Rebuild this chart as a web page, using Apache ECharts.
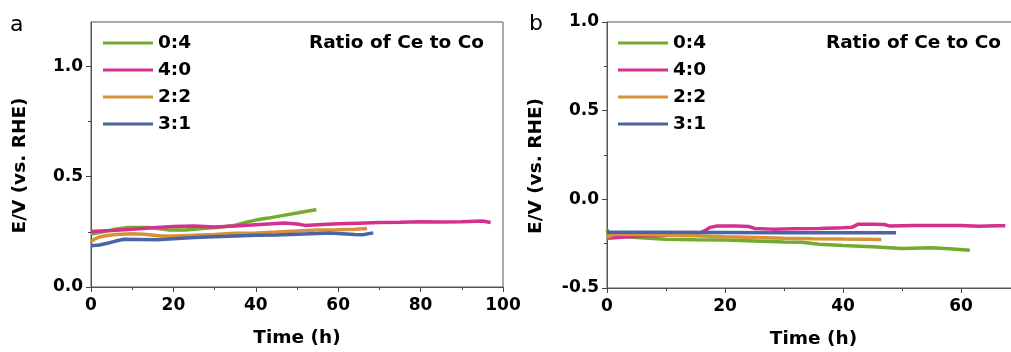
<!DOCTYPE html>
<html><head><meta charset="utf-8">
<script src="https://cdn.jsdelivr.net/npm/echarts@6/dist/echarts.min.js"></script>
<style>html,body{margin:0;padding:0;background:#fff;}#c{width:1011px;height:352px;}</style>
</head><body><div id="c"></div>
<script>
// ---- data ----
const names = ['0:4', '4:0', '2:2', '3:1'];
const colors = ['#72ab2e', '#d4308e', '#d89236', '#4a64a6'];

// panel a
const tA_04 = [0, 3, 6, 9, 14, 19, 23, 27, 31, 35, 38, 40, 43, 46, 50, 53, 54.7];
const vA_04 = [0.24, 0.25, 0.262, 0.27, 0.27, 0.258, 0.258, 0.265, 0.27, 0.28, 0.295, 0.303, 0.312, 0.322, 0.335, 0.345, 0.35];
const tA_40 = [0, 5, 10, 15, 20, 25, 30, 35, 40, 45, 47, 50, 52, 55, 60, 65, 70, 75, 80, 85, 90, 95, 97];
const vA_40 = [0.251, 0.256, 0.262, 0.268, 0.274, 0.276, 0.272, 0.276, 0.282, 0.288, 0.290, 0.285, 0.279, 0.282, 0.286, 0.289, 0.292, 0.293, 0.295, 0.294, 0.295, 0.299, 0.292];
const tA_22 = [0, 1, 2, 4, 6, 10, 13, 17, 20, 25, 30, 35, 40, 45, 50, 55, 60, 64, 67];
const vA_22 = [0.206, 0.218, 0.226, 0.233, 0.238, 0.241, 0.239, 0.231, 0.231, 0.234, 0.238, 0.243, 0.245, 0.249, 0.254, 0.258, 0.259, 0.261, 0.265];
const tA_31 = [0, 2, 4, 6, 8, 12, 16, 20, 25, 30, 35, 40, 45, 50, 55, 58, 61, 64, 66, 68.5];
const vA_31 = [0.187, 0.19, 0.198, 0.208, 0.216, 0.215, 0.214, 0.219, 0.224, 0.228, 0.231, 0.234, 0.236, 0.239, 0.242, 0.244, 0.241, 0.238, 0.237, 0.245];

// panel b
const tB_04 = [0, 0.3, 1, 5, 10, 15, 20, 25, 30, 33, 36, 40, 45, 50, 55, 58, 61.5];
const vB_04 = [-0.17, -0.195, -0.205, -0.215, -0.225, -0.228, -0.23, -0.235, -0.24, -0.242, -0.253, -0.261, -0.268, -0.277, -0.273, -0.278, -0.287];
const tB_40 = [0, 3, 6, 10, 13, 15.5, 16.5, 17.5, 18.5, 22, 24, 25, 28, 32, 36, 40, 41.5, 42.5, 45, 47, 48, 52, 56, 60, 63, 66, 67.5];
const vB_40 = [-0.219, -0.212, -0.207, -0.203, -0.198, -0.193, -0.178, -0.158, -0.151, -0.151, -0.153, -0.164, -0.168, -0.166, -0.165, -0.16, -0.158, -0.141, -0.14, -0.142, -0.151, -0.147, -0.148, -0.147, -0.152, -0.149, -0.149];
const tB_22 = [0, 0.5, 1.5, 5, 10, 15, 20, 25, 30, 35, 40, 46.5];
const vB_22 = [-0.215, -0.205, -0.196, -0.198, -0.201, -0.206, -0.211, -0.215, -0.219, -0.222, -0.224, -0.226];
const tB_31 = [0, 10, 20, 30, 40, 49];
const vB_31 = [-0.185, -0.186, -0.187, -0.188, -0.188, -0.189];

// axes ticks
const xTicksA = [0, 20, 40, 60, 80, 100];
const xMinorA = [10, 30, 50, 70, 90];
const yTicksA = [0, 0.5, 1.0];
const yMinorA = [0.25, 0.75];
const xTicksB = [0, 20, 40, 60];
const xMinorB = [10, 30, 50];
const yTicksB = [-0.5, 0, 0.5, 1.0];
const yMinorB = [-0.25, 0.25, 0.75];

const panelLetters = ['a', 'b'];
const noteText = 'Ratio of Ce to Co';
const xTitle = 'Time (h)';
const yTitle = 'E/V (vs. RHE)';

// ---- chart ----
const FONT = 'DejaVu Sans';
const AX = '#555';
const pairs = (t, v) => t.map((x, i) => [x, v[i]]);

function majorAxis(gi, pos, min, max, ticks, name, fmt, extra, labelExtra, nameExtra) {
  return Object.assign({
    type: 'value', gridIndex: gi, position: pos, min: min, max: max,
    name: name, nameLocation: 'middle',
    nameTextStyle: Object.assign({ fontFamily: FONT, fontWeight: 'bold', fontSize: 18.5, color: '#000' }, nameExtra || {}),
    axisLine: { show: true, onZero: false, lineStyle: { color: AX, width: 1 } },
    axisTick: { show: true, inside: false, length: 5, customValues: ticks, lineStyle: { color: '#444', width: 1 } },
    axisLabel: Object.assign({ show: true, customValues: ticks, fontFamily: FONT, fontWeight: 'bold', fontSize: 17, color: '#000', formatter: fmt }, labelExtra || {}),
    splitLine: { show: false }
  }, extra || {});
}
function minorAxis(gi, pos, min, max, ticks) {
  return {
    type: 'value', gridIndex: gi, position: pos, offset: 0, min: min, max: max,
    axisLine: { show: false, onZero: false },
    axisTick: { show: true, inside: false, length: 3, customValues: ticks, lineStyle: { color: '#444' } },
    axisLabel: { show: false }, splitLine: { show: false }
  };
}

const xLab = v => String(v);
const yLab = v => (v < 0 ? '-' : '') + Math.abs(v).toFixed(1);
const xLabelExtra = { margin: 10 };
const yLabelExtra = { margin: 8 };
const yNameExtra = { padding: [0, 22, 0, 0] };

const option = {
  animation: false,
  backgroundColor: '#fff',
  grid: [
    { left: 91, top: 22, width: 412, height: 265, show: true, borderColor: AX, borderWidth: 1, backgroundColor: 'transparent', containLabel: false, outerBoundsMode: 'none' },
    { left: 607, top: 22, width: 413, height: 266, show: true, borderColor: AX, borderWidth: 1, backgroundColor: 'transparent', containLabel: false, outerBoundsMode: 'none' }
  ],
  xAxis: [
    majorAxis(0, 'bottom', 0, 100, xTicksA, xTitle, xLab, { nameGap: 42 }, xLabelExtra),
    majorAxis(1, 'bottom', 0, 70, xTicksB, xTitle, xLab, { nameGap: 42 }, xLabelExtra),
    minorAxis(0, 'bottom', 0, 100, xMinorA),
    minorAxis(1, 'bottom', 0, 70, xMinorB)
  ],
  yAxis: [
    majorAxis(0, 'left', 0, 1.2, yTicksA, yTitle, yLab, { nameGap: 61, nameRotate: 90 }, yLabelExtra, yNameExtra),
    majorAxis(1, 'left', -0.5, 1.0, yTicksB, yTitle, yLab, { nameGap: 61, nameRotate: 90 }, yLabelExtra, yNameExtra),
    minorAxis(0, 'left', 0, 1.2, yMinorA),
    minorAxis(1, 'left', -0.5, 1.0, yMinorB)
  ],
  legend: [0, 1].map(i => ({
    orient: 'vertical', left: i === 0 ? 103 : 618, top: 32, icon: 'rect', itemWidth: 50, itemHeight: 3, itemGap: 5,
    padding: 0, data: names, selectedMode: false,
    textStyle: { fontFamily: FONT, fontWeight: 'bold', fontSize: 18.5, color: '#000', lineHeight: 22 }
  })),
  graphic: [
    { type: 'text', left: 10, top: 14, style: { text: panelLetters[0], font: '22px "DejaVu Sans"', fill: '#000' } },
    { type: 'text', left: 529, top: 13, style: { text: panelLetters[1], font: '22px "DejaVu Sans"', fill: '#000' } },
    { type: 'text', right: 1011 - 484, top: 34, style: { text: noteText, font: 'bold 18.5px "DejaVu Sans"', fill: '#000' } },
    { type: 'text', right: 10, top: 34, style: { text: noteText, font: 'bold 18.5px "DejaVu Sans"', fill: '#000' } }
  ],
  series: [
    [tA_04, vA_04, 0, 0], [tA_40, vA_40, 1, 0], [tA_22, vA_22, 2, 0], [tA_31, vA_31, 3, 0],
    [tB_04, vB_04, 0, 1], [tB_40, vB_40, 1, 1], [tB_22, vB_22, 2, 1], [tB_31, vB_31, 3, 1]
  ].map(([t, v, ci, p]) => ({
    name: names[ci], type: 'line', xAxisIndex: p, yAxisIndex: p, data: pairs(t, v),
    showSymbol: false, symbol: 'none', smooth: false, animation: false,
    lineStyle: { color: colors[ci], width: 3.5 }, itemStyle: { color: colors[ci] }
  }))
};
const chart = echarts.init(document.getElementById('c'), null, { renderer: 'canvas' });
chart.setOption(option);
</script></body></html>
